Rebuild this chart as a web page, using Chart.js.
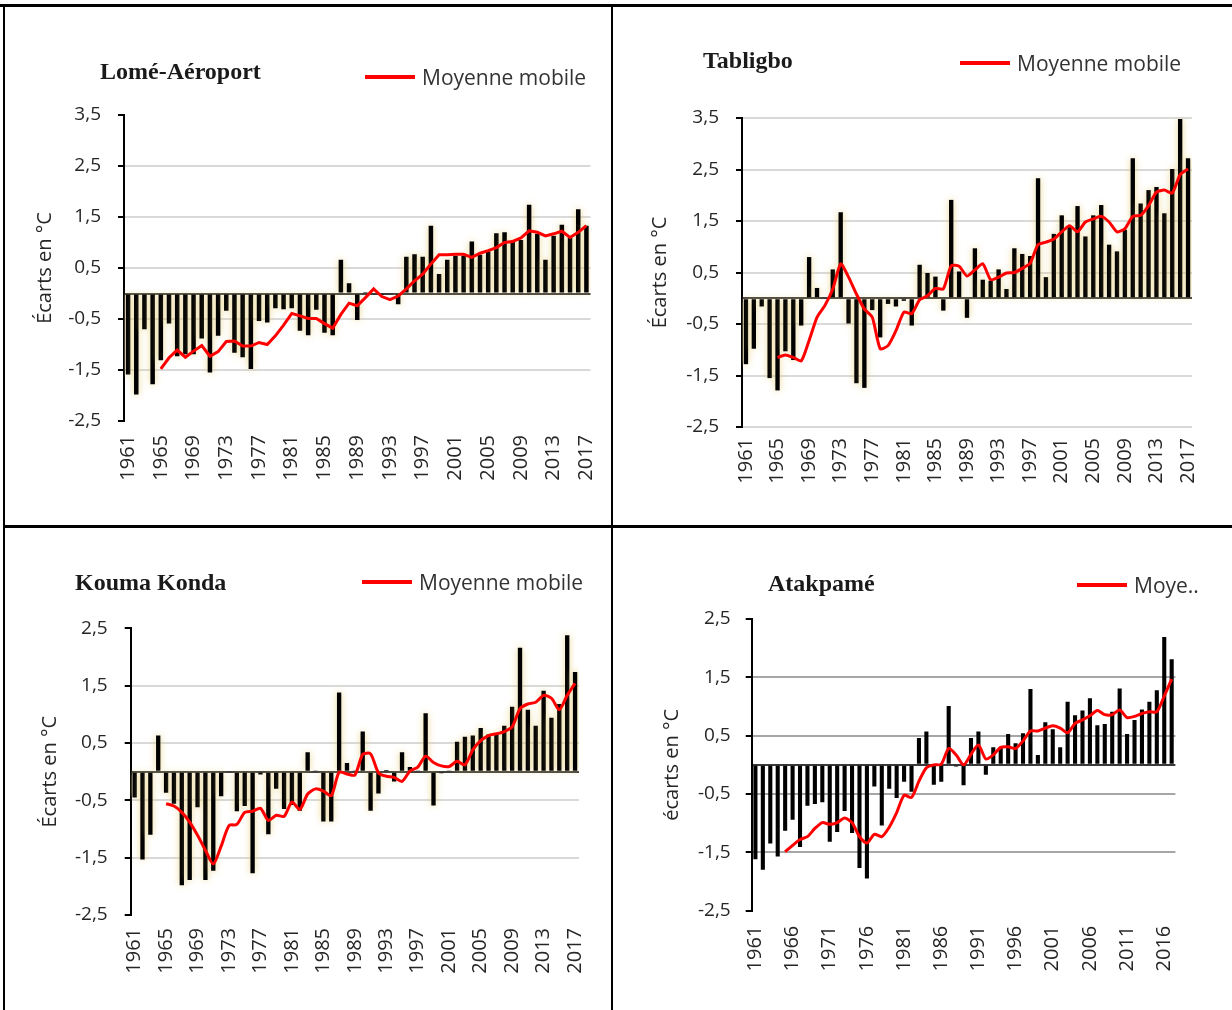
<!DOCTYPE html>
<html lang="fr">
<head>
<meta charset="utf-8">
<title>Écarts de température</title>
<script src="https://cdn.jsdelivr.net/npm/chart.js@4.4.1/dist/chart.umd.min.js"></script>
<style>
  html, body { margin: 0; padding: 0; background: #fff; }
  body { width: 1232px; height: 1010px; position: relative; overflow: hidden; font-family: "Open Sans", sans-serif; }
  .rule { position: absolute; background: #000; z-index: 5; }
  .cell { position: absolute; }
  .station { position: absolute; font-family: "Liberation Serif", serif; font-weight: bold; font-size: 24px; line-height: 24px; color: #1a1a1a; white-space: nowrap; }
  .legend { position: absolute; display: flex; align-items: center; height: 22px; font-size: 21px; color: #333; white-space: nowrap; }
  .legend i { display: inline-block; width: 50px; height: 4px; background: #ff0000; margin-right: 7px; }
</style>
</head>
<body>

<div class="rule" style="left:0;top:4px;width:1232px;height:3px"></div>
<div class="rule" style="left:3px;top:4px;width:2px;height:1006px"></div>
<div class="rule" style="left:611px;top:4px;width:2px;height:1006px"></div>
<div class="rule" style="left:3px;top:525px;width:1229px;height:3px"></div>

<canvas class="cell" id="lome" width="606" height="517" style="left:5px;top:8px"></canvas>
<canvas class="cell" id="tabligbo" width="618" height="517" style="left:614px;top:8px"></canvas>
<canvas class="cell" id="kouma" width="606" height="481" style="left:5px;top:529px"></canvas>
<canvas class="cell" id="atakpame" width="618" height="481" style="left:614px;top:529px"></canvas>

<div class="station" style="left:100px;top:59px">Lomé-Aéroport</div>
<div class="station" style="left:703px;top:48px">Tabligbo</div>
<div class="station" style="left:75px;top:570px">Kouma Konda</div>
<div class="station" style="left:768px;top:571px">Atakpamé</div>

<div class="legend" style="left:365px;top:66px"><i></i>Moyenne mobile</div>
<div class="legend" style="left:960px;top:52px"><i></i>Moyenne mobile</div>
<div class="legend" style="left:362px;top:571px"><i></i>Moyenne mobile</div>
<div class="legend" style="left:1077px;top:574px"><i></i>Moye..</div>

<script>
// --- données ---
const years = [1961, 1962, 1963, 1964, 1965, 1966, 1967, 1968, 1969, 1970,
    1971, 1972, 1973, 1974, 1975, 1976, 1977, 1978, 1979, 1980,
    1981, 1982, 1983, 1984, 1985, 1986, 1987, 1988, 1989, 1990,
    1991, 1992, 1993, 1994, 1995, 1996, 1997, 1998, 1999, 2000,
    2001, 2002, 2003, 2004, 2005, 2006, 2007, 2008, 2009, 2010,
    2011, 2012, 2013, 2014, 2015, 2016, 2017];

const ticksHaut = [-2.5, -1.5, -0.5, 0.5, 1.5, 2.5, 3.5];
const ticksBas = [-2.5, -1.5, -0.5, 0.5, 1.5, 2.5];

const lomeEcarts = [-1.59, -1.98, -0.70, -1.78, -1.31, -0.59, -1.23, -1.19, -1.19, -0.88,
    -1.55, -0.83, -0.34, -1.16, -1.25, -1.48, -0.54, -0.57, -0.29, -0.31,
    -0.29, -0.73, -0.82, -0.32, -0.77, -0.82, 0.66, 0.20, -0.52, 0.03,
    0.02, -0.03, 0.02, -0.21, 0.72, 0.77, 0.72, 1.33, 0.38, 0.66,
    0.74, 0.74, 1.02, 0.76, 0.83, 1.18, 1.20, 1.04, 1.05, 1.74,
    1.17, 0.66, 1.13, 1.35, 1.10, 1.65, 1.33];
const lomeMoyenne = [null, null, null, null, -1.48, -1.26, -1.11, -1.25, -1.13, -1.02,
    -1.23, -1.14, -0.94, -0.93, -1.03, -1.03, -0.96, -1.00, -0.83, -0.62,
    -0.39, -0.44, -0.49, -0.49, -0.59, -0.68, -0.41, -0.19, -0.24, -0.08,
    0.09, -0.06, -0.12, -0.05, 0.09, 0.25, 0.38, 0.58, 0.76, 0.76,
    0.77, 0.77, 0.71, 0.79, 0.84, 0.90, 1.00, 1.02, 1.09, 1.23,
    1.20, 1.13, 1.17, 1.22, 1.10, 1.20, 1.33];

const tabligboEcarts = [-1.28, -0.98, -0.16, -1.55, -1.79, -1.03, -1.20, -0.53, 0.80, 0.20,
    0.02, 0.56, 1.67, -0.49, -1.65, -1.74, -0.23, -0.76, -0.11, -0.16,
    -0.05, -0.53, 0.65, 0.49, 0.42, -0.24, 1.91, 0.52, -0.38, 0.97,
    0.36, 0.34, 0.56, 0.18, 0.97, 0.86, 0.82, 2.33, 0.41, 1.25,
    1.61, 1.39, 1.79, 1.20, 1.61, 1.81, 1.04, 0.91, 1.33, 2.72,
    1.84, 2.10, 2.16, 1.65, 2.51, 3.48, 2.72];
const tabligboMoyenne = [null, null, null, null, -1.15, -1.10, -1.15, -1.22, -0.82, -0.37,
    -0.14, 0.18, 0.67, 0.41, 0.08, -0.21, -0.37, -0.98, -0.92, -0.63,
    -0.27, -0.30, -0.03, 0.05, 0.19, 0.18, 0.63, 0.62, 0.43, 0.55,
    0.67, 0.36, 0.41, 0.49, 0.50, 0.58, 0.68, 1.04, 1.09, 1.15,
    1.29, 1.41, 1.29, 1.48, 1.54, 1.59, 1.48, 1.29, 1.35, 1.59,
    1.61, 1.80, 2.06, 2.10, 2.04, 2.40, 2.51];

const koumaEcarts = [-0.45, -1.53, -1.10, 0.63, -0.37, -0.56, -1.98, -1.89, -0.62, -1.89,
    -1.73, -0.43, -0.02, -0.69, -0.60, -1.77, -0.05, -1.09, -0.30, -0.65,
    -0.58, -0.68, 0.34, 0.01, -0.87, -0.87, 1.38, 0.15, 0.02, 0.70,
    -0.68, -0.38, 0.03, -0.17, 0.34, 0.08, 0.02, 1.02, -0.59, -0.03,
    0.01, 0.52, 0.61, 0.63, 0.76, 0.65, 0.66, 0.80, 1.13, 2.16,
    1.08, 0.80, 1.41, 0.94, 1.18, 2.38, 1.74];
const koumaMoyenne = [null, null, null, null, -0.56, -0.60, -0.71, -0.88, -1.11, -1.37,
    -1.61, -1.30, -0.94, -0.92, -0.71, -0.69, -0.64, -0.85, -0.76, -0.78,
    -0.53, -0.66, -0.39, -0.30, -0.34, -0.42, -0.01, -0.04, -0.06, 0.30,
    0.31, -0.02, -0.08, -0.10, -0.17, 0.01, 0.08, 0.27, 0.16, 0.10,
    0.09, 0.18, 0.12, 0.38, 0.54, 0.63, 0.66, 0.70, 0.78, 1.10,
    1.18, 1.21, 1.33, 1.28, 1.08, 1.33, 1.54];

const atakpameEcarts = [-1.62, -1.80, -1.35, -1.57, -1.13, -0.94, -1.41, -0.70, -0.67, -0.64,
    -1.32, -1.15, -0.79, -1.17, -1.77, -1.95, -0.37, -1.04, -0.41, -0.57,
    -0.29, -0.46, 0.46, 0.57, -0.34, -0.29, 1.01, -0.03, -0.35, 0.46,
    0.57, -0.17, 0.30, 0.30, 0.53, 0.37, 0.54, 1.30, 0.17, 0.73,
    0.61, 0.30, 1.08, 0.85, 0.93, 1.14, 0.68, 0.70, 0.91, 1.31,
    0.53, 0.77, 0.95, 1.08, 1.28, 2.19, 1.81];
const atakpameMoyenne = [null, null, null, null, -1.49, -1.38, -1.28, -1.23, -1.09, -0.99,
    -1.02, -0.99, -0.91, -0.99, -1.23, -1.34, -1.19, -1.23, -1.07, -0.82,
    -0.52, -0.56, -0.28, -0.05, 0.00, 0.01, 0.28, 0.17, 0.00, 0.18,
    0.34, 0.10, 0.17, 0.30, 0.31, 0.28, 0.41, 0.58, 0.58, 0.63,
    0.67, 0.63, 0.55, 0.71, 0.77, 0.84, 0.93, 0.86, 0.86, 0.94,
    0.81, 0.83, 0.88, 0.91, 0.91, 1.18, 1.47];

Chart.defaults.font.family = '"Open Sans", sans-serif';
Chart.defaults.color = '#262626';

// halo jaunâtre autour des barres (effet Excel)
const glowPlugin = {
    id: 'glow',
    defaults: { color: 'rgba(232, 208, 125, 0.9)', blur: 7 },
    beforeDatasetDraw(chart, args, opts) {
        if (args.meta.type !== 'bar') return;
        const c = chart.ctx;
        c.save();
        c.shadowColor = opts.color;
        c.shadowBlur = opts.blur;
    },
    afterDatasetDraw(chart, args) {
        if (args.meta.type !== 'bar') return;
        chart.ctx.restore();
    }
};

function drawStation(id, s) {
    const first = s.ticks[0];
    const last = s.ticks[s.ticks.length - 1];

    new Chart(document.getElementById(id), {
        data: {
            labels: years,
            datasets: [
                {
                    type: 'line',
                    label: 'Moyenne mobile',
                    data: s.moyenne,
                    borderColor: '#ff0000',
                    borderWidth: 3,
                    pointRadius: 0,
                    tension: s.tension,
                    order: 1
                },
                {
                    type: 'bar',
                    label: 'Écarts',
                    data: s.ecarts,
                    backgroundColor: '#000',
                    barPercentage: 0.55,
                    categoryPercentage: 1,
                    order: 2
                }
            ]
        },
        options: {
            responsive: false,
            animation: false,
            layout: { padding: s.padding },
            plugins: {
                legend: { display: false },
                tooltip: { enabled: false },
                glow: s.glow
            },
            scales: {
                x: {
                    offset: true,
                    grid: { display: false },
                    border: { display: false },
                    ticks: {
                        autoSkip: false,
                        minRotation: 90,
                        maxRotation: 90,
                        padding: s.xPad,
                        font: { size: 20 },
                        callback: (v, i) => i % s.every === 0 ? years[i] : ''
                    },
                    afterFit: sc => {
                        sc.height = s.xHeight;
                        sc.paddingLeft = 0;
                        sc.paddingRight = 0;
                    }
                },
                y: {
                    min: first,
                    max: last,
                    afterBuildTicks: sc => {
                        sc.ticks = s.ticks.concat([0]).sort((a, b) => a - b).map(v => ({ value: v }));
                    },
                    afterFit: sc => { sc.width = s.yWidth; },
                    ticks: {
                        padding: s.yPad,
                        font: { size: 19 },
                        callback: v => v === 0 ? '' : v.toFixed(1).replace('.', ',')
                    },
                    grid: {
                        color: c => {
                            const v = c.tick.value;
                            if (v === 0) return '#3a3a3a';
                            if ((v === first || v === last) && !s.edgeGrid) return 'transparent';
                            return s.gridColor;
                        },
                        lineWidth: 2,
                        tickLength: 6,
                        tickWidth: 2,
                        tickColor: c => c.tick.value === 0 ? 'transparent' : '#000'
                    },
                    border: { color: '#000', width: 2 },
                    title: {
                        display: true,
                        text: s.yTitle,
                        font: { size: 20 },
                        padding: { top: s.yTitlePad, bottom: 0 }
                    }
                }
            }
        },
        plugins: [glowPlugin]
    });
}

drawStation('lome', {
    ecarts: lomeEcarts, moyenne: lomeMoyenne, ticks: ticksHaut, every: 4, tension: 0,
    padding: { top: 107, right: 20.5, bottom: 0, left: 0 },
    yWidth: 119, xHeight: 104, xPad: 6, yPad: 17, yTitlePad: 28,
    yTitle: 'Écarts en °C', gridColor: '#d9d9d9', edgeGrid: false, glow: {}
});

drawStation('tabligbo', {
    ecarts: tabligboEcarts, moyenne: tabligboMoyenne, ticks: ticksHaut, every: 4, tension: 0.2,
    padding: { top: 110, right: 40, bottom: 0, left: 0 },
    yWidth: 128, xHeight: 98, xPad: 3, yPad: 17, yTitlePad: 34,
    yTitle: 'Écarts en °C', gridColor: '#d9d9d9', edgeGrid: true, glow: {}
});

drawStation('kouma', {
    ecarts: koumaEcarts, moyenne: koumaMoyenne, ticks: ticksBas, every: 4, tension: 0.25,
    padding: { top: 99.3, right: 32, bottom: 0, left: 0 },
    yWidth: 125.7, xHeight: 95, xPad: 5, yPad: 17, yTitlePad: 33,
    yTitle: 'Écarts en °C', gridColor: '#d9d9d9', edgeGrid: false, glow: {}
});

drawStation('atakpame', {
    ecarts: atakpameEcarts, moyenne: atakpameMoyenne, ticks: ticksBas, every: 5, tension: 0.25,
    padding: { top: 90, right: 56.6, bottom: 0, left: 0 },
    yWidth: 137.7, xHeight: 99.3, xPad: 7, yPad: 15, yTitlePad: 46,
    yTitle: 'écarts en °C', gridColor: '#a6a6a6', edgeGrid: false, glow: false
});
</script>
</body>
</html>
